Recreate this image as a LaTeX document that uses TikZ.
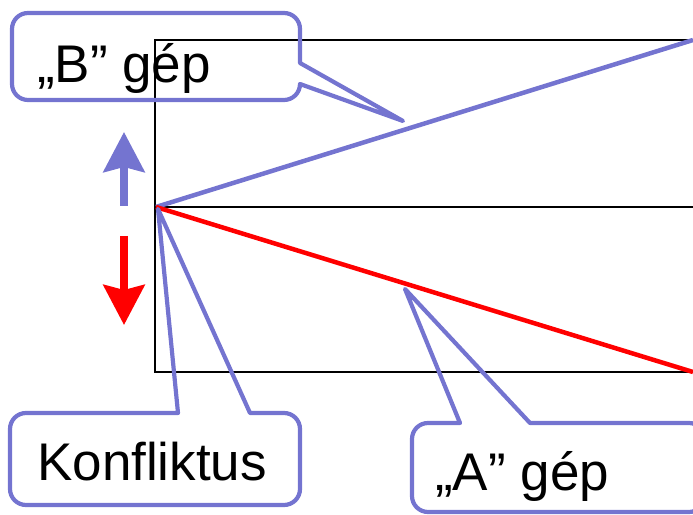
\documentclass[tikz,border=0pt]{standalone}
\usepackage{fontspec}
\setmainfont{Liberation Sans}
\usetikzlibrary{arrows.meta}
\definecolor{cblue}{RGB}{116,116,208}
\definecolor{cred}{RGB}{255,0,0}
\tikzset{
  frame/.style={draw=black,line width=2.2pt},
  bline/.style={draw=cblue,line width=4.5pt},
  rline/.style={draw=cred,line width=4.5pt},
  callout/.style={draw=cblue,line width=4.2pt,line join=round},
  lbl/.style={anchor=base west,inner sep=0pt,font=\fontsize{53}{60}\selectfont},
  bigarrow/.style={line width=7.5pt,-{Stealth[length=40pt,width=41pt,inset=5pt]}}
}
\begin{document}
\begin{tikzpicture}[x=1pt,y=1pt]
\useasboundingbox (0,0) rectangle (693,514);
\clip (0,0) rectangle (693,514);
% frame
\coordinate (TL) at (155,474);
\coordinate (ML) at (155,307);
\coordinate (BL) at (155,142);
\coordinate (TR) at (700,474);
\coordinate (MR) at (700,307);
\coordinate (BR) at (700,142);
\coordinate (C) at (156,307);
\coordinate (Bend) at (693,474);
\coordinate (Aend) at (693,142);
\draw[frame] (TR) -- (TL) -- (BL) -- (BR);
\draw[frame] (ML) -- (MR);
% machine lines
\draw[bline] (C) -- (Bend);
\draw[rline] (C) -- (Aend);
% arrows
\coordinate (u0) at (124,308);
\coordinate (u1) at (124,382);
\coordinate (d0) at (124,278);
\coordinate (d1) at (124,189);
\draw[bigarrow,draw=cblue,color=cblue] (u0) -- (u1);
\draw[bigarrow,draw=cred,color=cred] (d0) -- (d1);
% callout B
\coordinate (Btip) at (403,393);
\draw[callout] (300,451) -- (Btip) -- (300,430)
  arc[start angle=0,end angle=-90,radius=16] -- (28,414)
  arc[start angle=-90,end angle=-180,radius=16] -- (12,485)
  arc[start angle=180,end angle=90,radius=16] -- (284,501)
  arc[start angle=90,end angle=0,radius=16] -- cycle;
\node[lbl] (btext) at (37,431) {„B” gép};
% callout Konfliktus
\coordinate (Ktip) at (158,305);
\draw[callout] (178,101) -- (Ktip) -- (250,101) -- (284,101)
  arc[start angle=90,end angle=0,radius=16] -- (300,25)
  arc[start angle=0,end angle=-90,radius=16] -- (26,9)
  arc[start angle=-90,end angle=-180,radius=16] -- (10,85)
  arc[start angle=180,end angle=90,radius=16] -- cycle;
\node[lbl] (ktext) at (37,34) {Konfliktus};
% callout A
\coordinate (Atip) at (405,225);
\draw[callout] (460,91) -- (Atip) -- (530,91) -- (689,91)
  arc[start angle=90,end angle=0,radius=16] -- (705,18)
  arc[start angle=0,end angle=-90,radius=16] -- (428,2)
  arc[start angle=-90,end angle=-180,radius=16] -- (412,75)
  arc[start angle=180,end angle=90,radius=16] -- cycle;
\node[lbl] (atext) at (435,24) {„A” gép};
\end{tikzpicture}
\end{document}
